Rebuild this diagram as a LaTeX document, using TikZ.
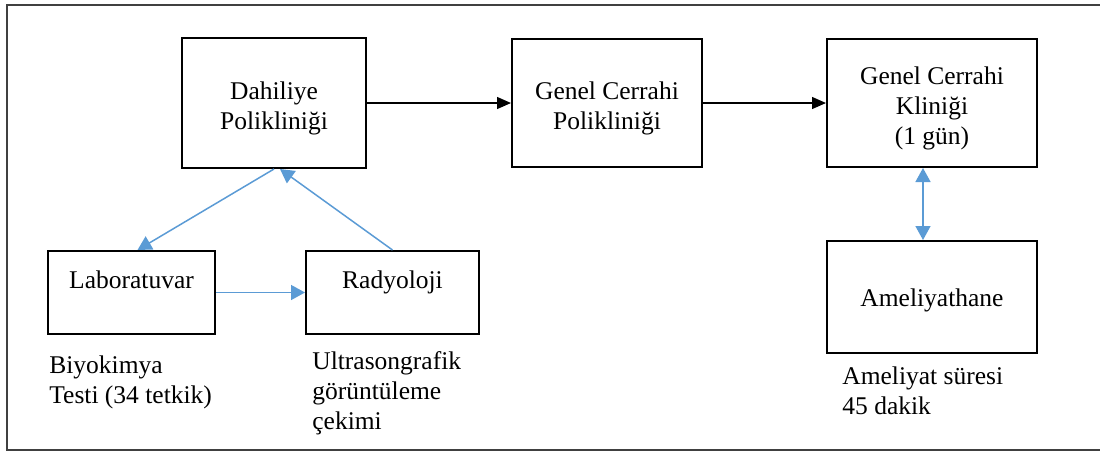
\documentclass[tikz,border=0pt]{standalone}
\usepackage{fontspec}
\setmainfont{Liberation Serif}
\usepackage{tikz}
\usetikzlibrary{positioning,arrows.meta}
\definecolor{linkblue}{HTML}{5B9BD5}
\definecolor{framegray}{HTML}{404040}
\newcommand{\boxlift}{\rule{0pt}{14.7pt}}
\tikzset{
  box/.style={rectangle, draw=black, line width=1pt, text centered, align=center, inner sep=0pt},
  topbox/.style={box, text height=8.7pt, text depth=13.2pt},
  note/.style={anchor=north west, align=left, inner sep=0pt},
  flow/.style={-{Triangle[length=7pt,width=6pt]}, line width=0.65pt, black},
  link/.style={line width=0.75pt, color=linkblue, >={Triangle[length=7pt,width=7.5pt]}},
  frame/.style={draw=framegray, line width=0.75pt}
}

\begin{document}
\begin{tikzpicture}[x=0.5pt, y=-0.5pt, font=\fontsize{12.75}{15}\selectfont]
	\useasboundingbox (0,0) rectangle (1100,452);
	\draw[frame] (7,5) rectangle (1106,450);

	\node[box, minimum width=92pt, minimum height=65pt] (dahiliye) at (274,103) {\boxlift Dahiliye\\Polikliniği};
	\node[box, minimum width=95pt, minimum height=64pt, right=72pt of dahiliye] (genelpol) {\boxlift Genel Cerrahi\\Polikliniği};
	\node[box, minimum width=105pt, minimum height=64pt, right=61.5pt of genelpol] (klinik) {\boxlift Genel Cerrahi\\Kliniği\\(1 gün)};
	\node[box, minimum width=105pt, minimum height=56pt, below=36pt of klinik] (ameliyat) {\rule{0pt}{12.7pt}Ameliyathane};

	\node[topbox, minimum width=83.5pt, minimum height=41.5pt] (lab) at (131.5,292.5) {Laboratuvar};
	\node[topbox, minimum width=86.5pt, minimum height=41.5pt, right=44.5pt of lab] (radyoloji) {Radyoloji};

	\node[note] (biyokimya) at (49,355) {Biyokimya\\Testi (34 tetkik)};
	\node[note] (ultrason) at (312,351) {Ultrasongrafik\\görüntüleme\\çekimi};
	\node[note] (sure) at (842,366) {Ameliyat süresi\\45 dakik};

	\draw[flow] (dahiliye.east) -- (dahiliye.east -| genelpol.west);
	\draw[flow] (genelpol) -- (klinik);

	\draw[link, ->] (dahiliye.south) -- ([xshift=3pt]lab.north);
	\draw[link, ->] (radyoloji.north) -- ([xshift=3pt]dahiliye.south);
	\draw[link, ->] (lab) -- (radyoloji);
	\draw[link, <->] ([xshift=-4.5pt]klinik.south) -- ([xshift=-4.5pt]ameliyat.north);
\end{tikzpicture}
\end{document}
